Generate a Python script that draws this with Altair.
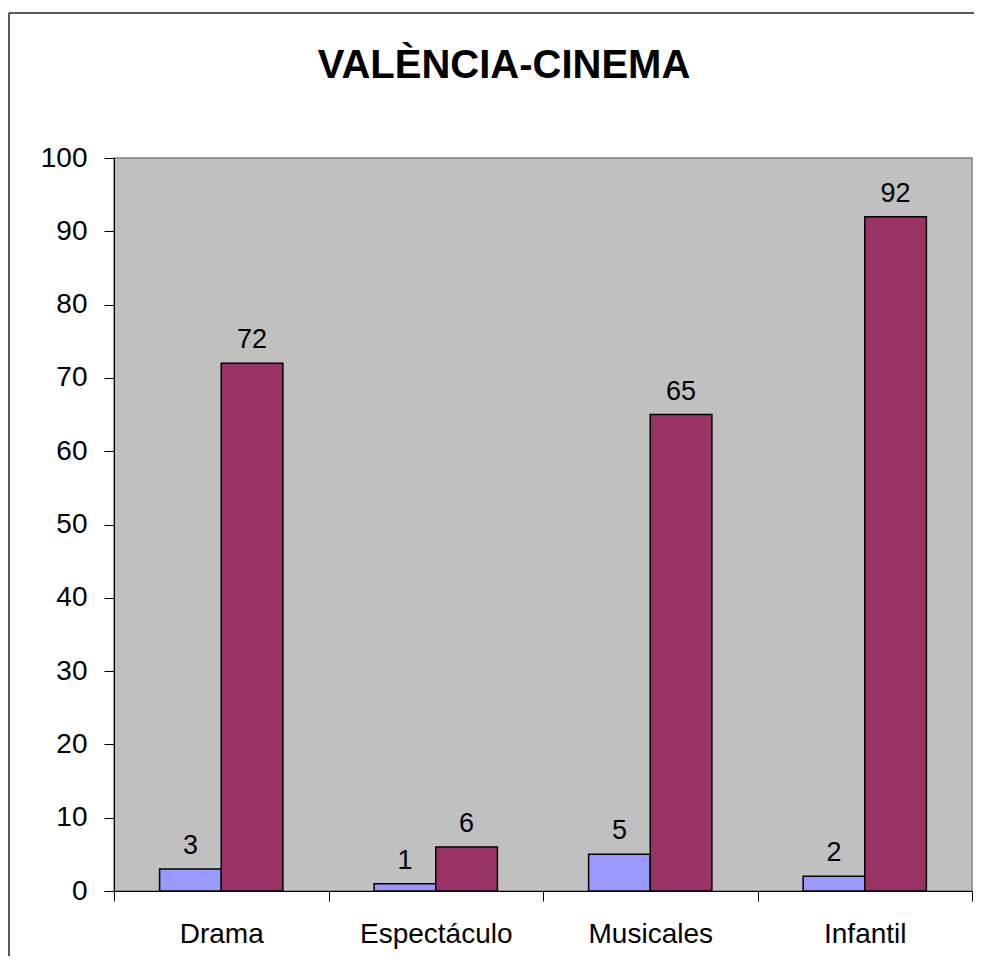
import altair as alt
import pandas as pd

title_text = "VALÈNCIA-CINEMA"
categories = ["Drama", "Espectáculo", "Musicales", "Infantil"]
serie1 = [3, 1, 5, 2]
serie2 = [72, 6, 65, 92]
series_names = ["Serie1", "Serie2"]
colors = ["#9999FF", "#993366"]
y_ticks = list(range(0, 101, 10))

rows = []
for i, c in enumerate(categories):
    rows.append({"cat": c, "serie": series_names[0], "value": serie1[i]})
    rows.append({"cat": c, "serie": series_names[1], "value": serie2[i]})
df = pd.DataFrame(rows)

FONT = "Liberation Sans"

x = alt.X(
    "cat:N", sort=categories,
    scale=alt.Scale(paddingInner=0, paddingOuter=0),
    axis=alt.Axis(title=None, labelAngle=0, tickBand="extent", tickSize=10,
                  labelPadding=19, labelFontSize=28, labelFont=FONT,
                  labelColor="black", domainColor="black", tickColor="black",
                  domainWidth=1, tickWidth=1),
)
xo = alt.XOffset("serie:N", sort=series_names,
                 scale=alt.Scale(paddingInner=0, paddingOuter=0.74))
y = alt.Y(
    "value:Q",
    scale=alt.Scale(domain=[0, 100], nice=False),
    axis=alt.Axis(values=y_ticks, title=None, grid=False, tickSize=10,
                  labelPadding=17, labelFontSize=28, labelFont=FONT,
                  labelColor="black", domainColor="black", tickColor="black",
                  domainWidth=1, tickWidth=1),
)

bars = alt.Chart(df).mark_bar(stroke="black", strokeWidth=1.5).encode(
    x=x, xOffset=xo, y=y,
    color=alt.Color("serie:N", scale=alt.Scale(domain=series_names, range=colors), legend=None),
)
labels = alt.Chart(df).mark_text(
    baseline="alphabetic", dy=-15, fontSize=27, font=FONT, color="black"
).encode(x=x, xOffset=xo, y=y, text="value:Q")

one = pd.DataFrame({"a": [0]})
frame_top = alt.Chart(one).mark_rule(color="#222222", strokeWidth=1.5).encode(
    x=alt.value(-105), x2=alt.value(3000), y=alt.value(-145)
)
frame_left = alt.Chart(one).mark_rule(color="#222222", strokeWidth=1.5).encode(
    x=alt.value(-105), y=alt.value(-145), y2=alt.value(3000)
)

title = alt.Chart(pd.DataFrame({"t": [title_text]})).mark_text(
    font=FONT, fontSize=40, fontWeight="bold", color="black",
    align="center", baseline="alphabetic"
).encode(x=alt.value(390), y=alt.value(-80), text="t:N")

chart = alt.layer(frame_top, frame_left, bars, labels, title).properties(
    width=858, height=733,
    autosize=alt.AutoSizeParams(type="none"),
    padding={"left": 106, "top": 150, "right": 2, "bottom": 65},
).configure_view(fill="#C0C0C0", stroke="#808080", strokeWidth=1.5)

chart.save("out.html", embed_options={"renderer": "svg", "actions": False})
